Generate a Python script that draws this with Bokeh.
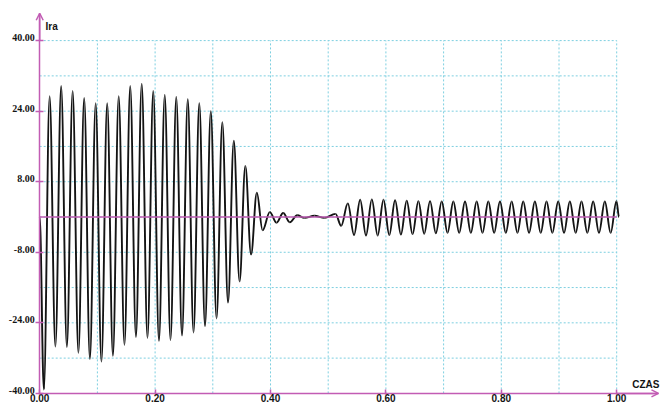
from bokeh.plotting import figure
from bokeh.models import (ColumnDataSource, Range1d, LinearAxis, FixedTicker,
                          PrintfTickFormatter, Arrow, OpenHead, Label)
from bokeh.embed import file_html
from bokeh.resources import INLINE

# ---- data: extrema of the current waveform (time [s], value) ----
ext_t = [0.0000,
         0.0072, 0.0172, 0.0272, 0.0372, 0.0471, 0.0571, 0.0671, 0.0771,
         0.0870, 0.0970, 0.1070, 0.1170, 0.1269, 0.1369, 0.1469, 0.1569,
         0.1668, 0.1768, 0.1868, 0.1968, 0.2067, 0.2167, 0.2267, 0.2367,
         0.2466, 0.2566, 0.2666, 0.2766, 0.2865, 0.2965, 0.3065, 0.3165,
         0.3264, 0.3364, 0.3464, 0.3564, 0.3663, 0.3763, 0.3863,
         0.3988, 0.4104, 0.4220, 0.4334, 0.4463, 0.4589, 0.4762, 0.4936,
         0.5127, 0.5225,
         0.5340, 0.5448, 0.5554, 0.5655, 0.5756, 0.5857, 0.5958, 0.6059,
         0.6159, 0.6260, 0.6361, 0.6462, 0.6563, 0.6664, 0.6765, 0.6866,
         0.6967, 0.7068, 0.7169, 0.7270, 0.7371, 0.7472, 0.7573, 0.7674,
         0.7775, 0.7876, 0.7977, 0.8078, 0.8179, 0.8280, 0.8380, 0.8481,
         0.8582, 0.8683, 0.8784, 0.8885, 0.8986, 0.9087, 0.9188, 0.9289,
         0.9390, 0.9491, 0.9592, 0.9693, 0.9794, 0.9895, 0.9996, 1.0040]
ext_v = [0.0,
         -39.1, 27.4, -29.4, 29.7, -29.5, 28.6, -30.8, 27.0,
         -32.2, 25.8, -32.8, 25.8, -31.5, 27.4, -29.0, 29.7,
         -27.2, 30.2, -27.4, 28.6, -28.1, 27.7, -27.9, 27.2,
         -26.9, 26.7, -26.2, 25.8, -24.7, 24.0, -23.0, 21.5,
         -19.4, 17.3, -14.6, 11.6, -8.5, 5.5, -3.0,
         1.1, -1.3, 0.9, -1.2, 0.4, -0.2, 0.3, -0.2,
         0.7, -2.0,
         3.1, -4.1, 3.9, -4.2, 4.0, -4.2, 3.9, -4.1,
         3.8, -4.0, 3.7, -3.9, 3.6, -3.8, 3.6, -3.7,
         3.5, -3.6, 3.5, -3.6, 3.5, -3.6, 3.5, -3.6,
         3.5, -3.6, 3.5, -3.6, 3.5, -3.6, 3.5, -3.6,
         3.5, -3.6, 3.5, -3.6, 3.5, -3.6, 3.5, -3.6,
         3.5, -3.6, 3.5, -3.6, 3.5, -3.6, 3.6, 0.0]

x_tick_vals = [0.0, 0.2, 0.4, 0.6, 0.8, 1.0]
y_tick_vals = [40, 24, 8, -8, -24, -40]
y_tick_labels = ["40.00", "24.00", "8.00", "-8.00", "-24.00", "-40.00"]
grid_x = [0.1, 0.2, 0.3, 0.4, 0.5, 0.6, 0.7, 0.8, 0.9, 1.0]
grid_y = [-32, -24, -16, -8, 0, 8, 16, 24, 32, 40]
x_name = "CZAS"
y_name = "Ira"

# ---- styles ----
MAG = "#c25cb4"
GRID = "#7dcfe0"
INK = "#141414"
FONT = "Liberation Sans"

p = figure(width=660, height=403, output_backend="svg", toolbar_location=None,
           x_range=Range1d(-0.06794, 1.07591), y_range=Range1d(-42.29, 49.093),
           x_axis_type=None, y_axis_type=None, min_border=0)
p.outline_line_color = None
p.background_fill_color = "white"
p.border_fill_color = "white"

x_lo, x_hi = min(x_tick_vals), max(x_tick_vals)
y_lo, y_hi = min(y_tick_vals), max(y_tick_vals)

# dotted grid limited to the data box
p.segment(x0=grid_x, y0=[y_lo] * len(grid_x), x1=grid_x, y1=[y_hi] * len(grid_x),
          line_color=GRID, line_width=1, line_dash="2 2")
p.segment(x0=[x_lo] * len(grid_y), y0=grid_y, x1=[x_hi] * len(grid_y), y1=grid_y,
          line_color=GRID, line_width=1, line_dash="2 2")

# waveform: cosine-like cubic curves between successive extrema
a = 0.3634
x0 = ext_t[:-1]
x1 = ext_t[1:]
src = ColumnDataSource(dict(
    x0=x0, y0=ext_v[:-1], x1=x1, y1=ext_v[1:],
    cx0=[s + a * (e - s) for s, e in zip(x0, x1)], cy0=ext_v[:-1],
    cx1=[e - a * (e - s) for s, e in zip(x0, x1)], cy1=ext_v[1:]))
p.bezier(x0="x0", y0="y0", x1="x1", y1="y1", cx0="cx0", cy0="cy0",
         cx1="cx1", cy1="cy1", source=src, line_color=INK, line_width=1.9)

# zero line
p.segment(x0=[x_lo], y0=[0], x1=[x_hi], y1=[0], line_color=MAG, line_width=1.4)

Y_TIP = 46.2
X_TIP = 1.0724

yaxis = LinearAxis(fixed_location=0, bounds=(y_lo, Y_TIP),
                   ticker=FixedTicker(ticks=y_tick_vals),
                   axis_line_color=MAG, axis_line_width=1.5,
                   major_tick_line_color=MAG, major_tick_line_width=1.5,
                   major_tick_in=4, major_tick_out=4, minor_tick_line_color=None,
                   major_label_text_color=None)
p.add_layout(yaxis, "left")

# y tick labels sit just above their tick, right-aligned left of the axis
p.text(x=[0] * len(y_tick_vals), y=y_tick_vals, text=y_tick_labels,
       text_align="right", text_baseline="alphabetic", x_offset=-5, y_offset=-3,
       text_font=FONT, text_font_style="bold", text_font_size="10px",
       text_color=INK)

xaxis = LinearAxis(fixed_location=y_lo, bounds=(x_lo, X_TIP),
                   ticker=FixedTicker(ticks=x_tick_vals),
                   formatter=PrintfTickFormatter(format="%.2f"),
                   axis_line_color=MAG, axis_line_width=1.5,
                   major_tick_line_color=MAG, major_tick_line_width=1.5,
                   major_tick_in=4, major_tick_out=1, minor_tick_line_color=None,
                   major_label_standoff=0, major_label_text_font=FONT,
                   major_label_text_font_style="bold", major_label_text_font_size="10px",
                   major_label_text_color=INK)
p.add_layout(xaxis, "below")

p.add_layout(Arrow(end=OpenHead(size=7, line_color=MAG, line_width=1.5),
                   x_start=0, y_start=y_hi, x_end=0, y_end=Y_TIP,
                   line_color=MAG, line_width=1.5))
p.add_layout(Arrow(end=OpenHead(size=7, line_color=MAG, line_width=1.5),
                   x_start=x_hi, y_start=y_lo, x_end=X_TIP, y_end=y_lo,
                   line_color=MAG, line_width=1.5))

p.add_layout(Label(x=0.01, y=43.3, text=y_name, text_baseline="alphabetic",
                   text_font=FONT, text_font_style="bold", text_font_size="10px",
                   text_color=INK))
p.add_layout(Label(x=1.0742, y=-38.0, text=x_name, text_baseline="alphabetic",
                   text_align="right", text_font=FONT, text_font_style="bold",
                   text_font_size="10px", text_color=INK))

open("out.html", "w").write(file_html(p, INLINE))
